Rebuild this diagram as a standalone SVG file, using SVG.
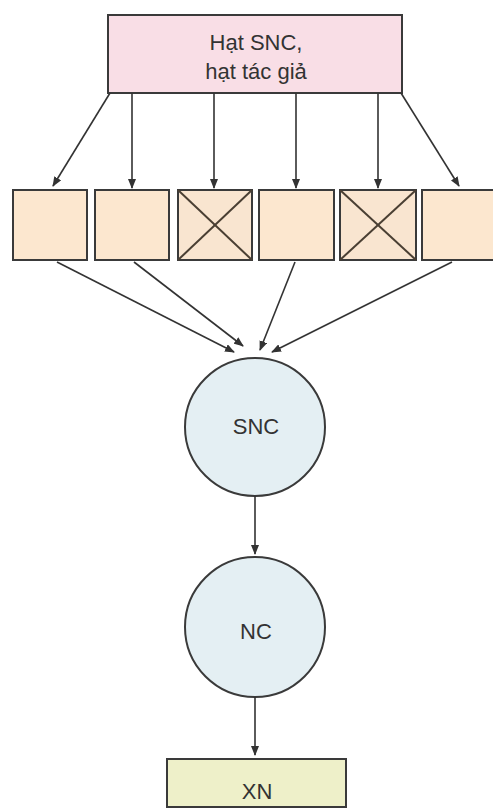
<svg xmlns="http://www.w3.org/2000/svg" width="493" height="810" viewBox="0 0 493 810">
<style>
.box{stroke:#3a3a3a;stroke-width:2}
.sq{fill:#fce7cf;stroke:#3a3a3a;stroke-width:2}
.xs{fill:#f9e5d0}
.x{stroke:#4a3f33;stroke-width:2}
.circ{fill:#e4eff3;stroke:#3a3a3a;stroke-width:2}
.t{font-family:"Liberation Sans",Arial,sans-serif;font-size:22px;fill:#333;text-anchor:middle}
.c{stroke:#333;stroke-width:1.6;fill:none;marker-end:url(#ah)}
</style>
<defs>
<marker id="ah" markerWidth="10" markerHeight="8" refX="9" refY="4" orient="auto" markerUnits="userSpaceOnUse">
<path d="M0,0 L10,4 L0,8 Z" fill="#333"/>
</marker>
</defs>
<rect width="493" height="810" fill="#fff"/>
<g id="top">
<rect class="box" x="108" y="15" width="294" height="78" fill="#f9dee6"/>
<text class="t" x="256" y="50">Hạt SNC,</text>
<text class="t" x="256" y="79">hạt tác giả</text>
</g>
<g id="s1"><rect class="sq" x="13" y="190" width="74" height="70"/></g>
<g id="s2"><rect class="sq" x="95" y="190" width="74" height="70"/></g>
<g id="s3"><rect class="sq xs" x="178" y="190" width="74" height="70"/><line class="x" x1="178" y1="190" x2="252" y2="260"/><line class="x" x1="252" y1="190" x2="178" y2="260"/></g>
<g id="s4"><rect class="sq" x="259" y="190" width="75" height="70"/></g>
<g id="s5"><rect class="sq xs" x="340" y="190" width="76" height="70"/><line class="x" x1="340" y1="190" x2="416" y2="260"/><line class="x" x1="416" y1="190" x2="340" y2="260"/></g>
<g id="s6"><rect class="sq" x="422" y="190" width="75" height="70"/></g>
<g id="snc">
<ellipse class="circ" cx="255" cy="427" rx="70" ry="69"/>
<text class="t" x="256" y="434">SNC</text>
</g>
<g id="nc">
<ellipse class="circ" cx="255" cy="627" rx="70" ry="70"/>
<text class="t" x="256" y="639">NC</text>
</g>
<g id="xn">
<rect class="box" x="167" y="759" width="179" height="48" fill="#eef0c9"/>
<text class="t" x="257" y="799">XN</text>
</g>
<g id="connectors">
<line class="c" x1="110" y1="93" x2="53" y2="186"/>
<line class="c" x1="132" y1="93" x2="132" y2="188"/>
<line class="c" x1="214" y1="93" x2="214" y2="188"/>
<line class="c" x1="296" y1="93" x2="296" y2="188"/>
<line class="c" x1="378" y1="93" x2="378" y2="188"/>
<line class="c" x1="401" y1="93" x2="459" y2="186"/>
<line class="c" x1="57" y1="262" x2="234" y2="352"/>
<line class="c" x1="134" y1="262" x2="243" y2="346"/>
<line class="c" x1="295" y1="262" x2="260" y2="350"/>
<line class="c" x1="452" y1="262" x2="272" y2="352"/>
<line class="c" x1="255" y1="496" x2="255" y2="554"/>
<line class="c" x1="255" y1="697" x2="255" y2="755"/>
</g>
</svg>
